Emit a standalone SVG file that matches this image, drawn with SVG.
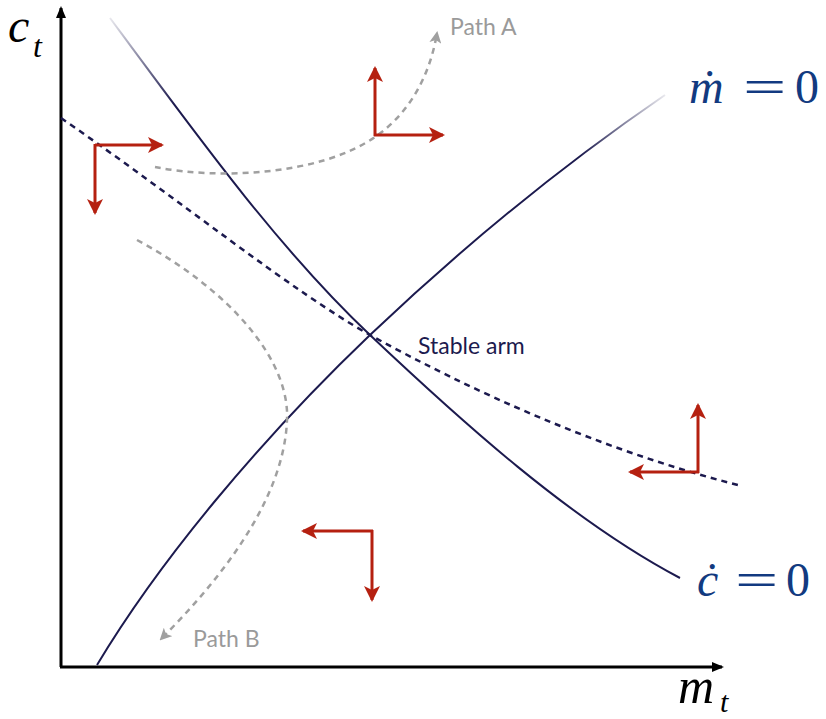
<svg xmlns="http://www.w3.org/2000/svg" width="826" height="719" viewBox="0 0 826 719">
<style>
.axis{stroke:#000;stroke-width:3;fill:none}
.curve{stroke:#1c1a4e;stroke-width:2;fill:none}
.stable{stroke:#1c1a4e;stroke-width:2.5;fill:none;stroke-dasharray:6 5}
.path{stroke:#a0a0a0;stroke-width:2.5;fill:none;stroke-dasharray:6 5}
.red{stroke:#b52010;stroke-width:3;fill:none}
.math{font-family:"Liberation Serif",serif;font-style:italic;fill:#000}
.eq{font-family:"Liberation Serif",serif;fill:#123a80}
.lbl{font-family:Lato,"Open Sans",sans-serif;font-size:23px}
</style>
<defs>
<marker id="axh" markerWidth="12" markerHeight="10" refX="10" refY="5" orient="auto" markerUnits="userSpaceOnUse"><path d="M0,0 L12,5 L0,10 Z" fill="#000"/></marker>
<marker id="rh" markerWidth="16" markerHeight="16" refX="14" refY="8" orient="auto" markerUnits="userSpaceOnUse"><path d="M0,0 L16,8 L0,16 L4,8 Z" fill="#b52010"/></marker>
<marker id="gh" markerWidth="12" markerHeight="12" refX="10" refY="6" orient="auto" markerUnits="userSpaceOnUse"><path d="M0,0 L12,6 L0,12 L3,6 Z" fill="#a0a0a0"/></marker>
<linearGradient id="fadeC" gradientUnits="userSpaceOnUse" x1="110" y1="18" x2="180" y2="100"><stop offset="0" stop-color="#1c1a4e" stop-opacity="0.1"/><stop offset="1" stop-color="#1c1a4e"/></linearGradient>
<linearGradient id="fadeM" gradientUnits="userSpaceOnUse" x1="580" y1="155" x2="665" y2="95"><stop offset="0" stop-color="#1c1a4e"/><stop offset="1" stop-color="#1c1a4e" stop-opacity="0.1"/></linearGradient>
</defs>
<g id="axes">
<line class="axis" x1="61" y1="667" x2="61" y2="8" marker-end="url(#axh)"/>
<line class="axis" x1="60" y1="667" x2="722" y2="667" marker-end="url(#axh)"/>
</g>
<g id="connectors">
<path id="cdot-curve" class="curve" style="stroke:url(#fadeC)" d="M110,18 C200,140 280,250 370,335 C460,420 570,520 680,578"/>
<path id="mdot-curve" class="curve" style="stroke:url(#fadeM)" d="M97,665 C160,560 260,440 370,335 C470,240 570,160 665,95"/>
<path id="stable-arm" class="stable" d="M61,118 C180,200 290,290 370,335 C470,390 600,450 738,485"/>
<path id="path-a" class="path" d="M155,167 C220,180 320,175 375,137 C410,113 430,75 437,33" marker-end="url(#gh)"/>
<path id="path-b" class="path" d="M137,240 C230,290 290,360 287,420 C284,500 220,580 161,639" marker-end="url(#gh)"/>
</g>
<g id="arrows-tl">
<line class="red" x1="95" y1="145" x2="162" y2="145" marker-end="url(#rh)"/>
<line class="red" x1="95" y1="144" x2="95" y2="213" marker-end="url(#rh)"/>
</g>
<g id="arrows-top">
<line class="red" x1="375" y1="136" x2="375" y2="68" marker-end="url(#rh)"/>
<line class="red" x1="374" y1="135" x2="443" y2="135" marker-end="url(#rh)"/>
</g>
<g id="arrows-right">
<line class="red" x1="698" y1="473" x2="698" y2="405" marker-end="url(#rh)"/>
<line class="red" x1="699" y1="472" x2="630" y2="472" marker-end="url(#rh)"/>
</g>
<g id="arrows-bottom">
<line class="red" x1="373" y1="531" x2="303" y2="531" marker-end="url(#rh)"/>
<line class="red" x1="372" y1="530" x2="372" y2="600" marker-end="url(#rh)"/>
</g>
<g id="labels">
<text class="math" x="8" y="42" font-size="48">c</text>
<text class="math" x="33" y="57" font-size="32">t</text>
<text class="math" x="678" y="703" font-size="50">m</text>
<text class="math" x="720" y="712" font-size="30">t</text>
<g id="mdot-label">
<text class="eq" x="689" y="103" font-size="48" font-style="italic">ṁ</text>
<text class="eq" x="743" y="103" font-size="48" transform="translate(743 0) scale(1.6 1) translate(-743 0)">=</text>
<text class="eq" x="795" y="103" font-size="48">0</text>
</g>
<g id="cdot-label">
<text class="eq" x="697" y="596" font-size="48" font-style="italic">ċ</text>
<text class="eq" x="735" y="596" font-size="48" transform="translate(735 0) scale(1.6 1) translate(-735 0)">=</text>
<text class="eq" x="786" y="596" font-size="48">0</text>
</g>
<text id="stable-label" class="lbl" x="418" y="354" fill="#1c1a4e">Stable arm</text>
<text id="path-a-label" class="lbl" x="450" y="35" fill="#9a9a9a">Path A</text>
<text id="path-b-label" class="lbl" x="193" y="647" fill="#9a9a9a">Path B</text>
</g>
</svg>
